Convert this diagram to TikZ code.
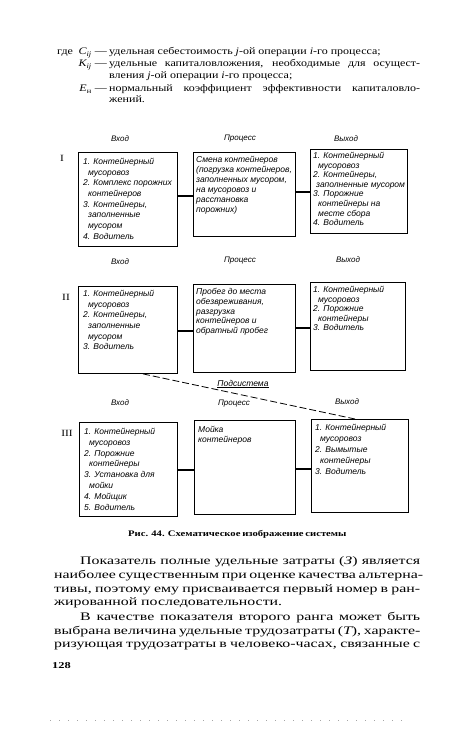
\documentclass[tikz,border=0pt]{standalone}
\usepackage{fontspec}
\setmainfont{Liberation Serif}
\newfontfamily\bodyfont{Liberation Serif}[FakeStretch=1.2]
\newfontfamily\parfont{Liberation Serif}[FakeStretch=1.38]
\newfontfamily\captfont{Liberation Serif}[FakeStretch=1.25]
\newfontfamily\handfont{Liberation Sans}
\begin{document}
\begin{tikzpicture}[x=1pt,y=-1pt]
\tikzset{
 box/.style={draw, line width=0.9pt, inner sep=0pt, anchor=north west},
 hand/.style={anchor=north west, inner sep=0pt, align=left, font=\handfont\itshape\fontsize{8.5}{#1}\selectfont},
 hand/.default=10.5,
 lab/.style={inner sep=0pt, anchor=base, font=\handfont\itshape\fontsize{8}{9}\selectfont},
 rom/.style={inner sep=0pt, anchor=base, font=\bodyfont\fontsize{9.5}{10}\selectfont},
 conn/.style={line width=1.1pt},
 subs/.style={line width=0.8pt, dash pattern=on 7pt off 3pt},
 hd/.style={inner sep=0pt, anchor=base west, font=\bodyfont\fontsize{10}{12}\selectfont},
 hdsym/.style={inner sep=0pt, anchor=base east, font=\bodyfont\fontsize{10}{12}\selectfont},
 ptxt/.style={inner sep=0pt, anchor=base west, font=\parfont\fontsize{11.5}{14}\selectfont},
 capt/.style={inner sep=0pt, anchor=base west, font=\captfont\bfseries\fontsize{8.5}{10}\selectfont},
}
\useasboundingbox[fill=white] (0,0) rectangle (450,746);

% ---- header ----
\node[hd] (h1g) at (57,55) {где};
\node[hdsym] (h1s) at (107,55) {{\itshape C}\textsubscript{\itshape ij} —};
\node[hd] (h1t) at (109,55) {удельная себестоимость {\itshape j}-ой операции {\itshape i}-го процесса;};
\node[hdsym] (h2s) at (107,67) {{\itshape K}\textsubscript{\itshape ij} —};
\node[hd] (h2t) at (109,67) {\makebox[311pt][s]{удельные капиталовложения, необходимые для осущест-}};
\node[hd] (h3t) at (109,79) {вления {\itshape j}-ой операции {\itshape i}-го процесса;};
\node[hdsym] (h4s) at (107,92) {{\itshape Е}\textsubscript{н} —};
\node[hd] (h4t) at (109,92) {\makebox[311pt][s]{нормальный коэффициент эффективности капиталовло-}};
\node[hd] (h5t) at (109,103) {жений.};

% ---- row I ----
\node[lab] (vI) at (120,142) {Вход};
\node[lab] (pI) at (240,141) {Процесс};
\node[lab] (oI) at (346,142) {Выход};
\node[rom] (rI) at (62,161) {I};

\node[box, minimum width=99pt, minimum height=94pt] (I1) at (78,152) {};
\node[box, minimum width=102pt, minimum height=84pt] (I2) at (193,152) {};
\node[box, minimum width=97pt, minimum height=84pt] (I3) at (310,149) {};

\node[hand=10.7] (tI1) at (83,158) {1. Контейнерный\\\hspace*{5pt}мусоровоз\\2. Комплекс порожних\\\hspace*{5pt}контейнеров\\3. Контейнеры,\\\hspace*{5pt}заполненные\\\hspace*{5pt}мусором\\4. Водитель};
\node[hand=10] (tI2) at (196,156) {Смена контейнеров\\(погрузка контейнеров,\\заполненных мусором,\\на мусоровоз и\\расстановка\\порожних)};
\node[hand=9.6] (tI3) at (313,152) {1. Контейнерный\\\hspace*{5pt}мусоровоз\\2. Контейнеры,\\\hspace*{3pt}заполненные мусором\\3. Порожние\\\hspace*{5pt}контейнеры на\\\hspace*{5pt}месте сбора\\4. Водитель};

\coordinate (cI1) at (0,196);
\coordinate (cI2) at (0,192);
\draw[conn] (I1.east |- cI1) -- (I2.west |- cI1);
\draw[conn] (I2.east |- cI2) -- (I3.west |- cI2);

% ---- row II ----
\node[lab] (vII) at (120,264) {Вход};
\node[lab] (pII) at (240,262) {Процесс};
\node[lab] (oII) at (348,262) {Выход};
\node[rom] (rII) at (66,300) {II};

\node[box, minimum width=99pt, minimum height=87pt] (II1) at (78,286) {};
\node[box, minimum width=102pt, minimum height=88pt] (II2) at (193,284) {};
\node[box, minimum width=95pt, minimum height=88pt] (II3) at (310,282) {};

\node[hand=10.7] (tII1) at (83,290) {1. Контейнерный\\\hspace*{5pt}мусоровоз\\2. Контейнеры,\\\hspace*{5pt}заполненные\\\hspace*{5pt}мусором\\3. Водитель};
\node[hand=9.8] (tII2) at (196,288) {Пробег до места\\обезвреживания,\\разгрузка\\контейнеров и\\обратный пробег};
\node[hand=9.6] (tII3) at (313,286) {1. Контейнерный\\\hspace*{5pt}мусоровоз\\2. Порожние\\\hspace*{5pt}контейнеры\\3. Водитель};

\coordinate (cII1) at (0,331);
\coordinate (cII2) at (0,328);
\draw[conn] (II1.east |- cII1) -- (II2.west |- cII1);
\draw[conn] (II2.east |- cII2) -- (II3.west |- cII2);

% ---- row III ----
\node[lab] (vIII) at (120,405) {Вход};
\node[lab] (pIII) at (234,405) {Процесс};
\node[lab] (oIII) at (347,404) {Выход};
\node[rom] (rIII) at (67,436) {III};

\node[box, minimum width=98pt, minimum height=94pt] (III1) at (79,422) {};
\node[box, minimum width=101pt, minimum height=94pt] (III2) at (194,420) {};
\node[box, minimum width=97pt, minimum height=93pt] (III3) at (311,419) {};

\node[hand=10.8] (tIII1) at (84,428) {1. Контейнерный\\\hspace*{5pt}мусоровоз\\2. Порожние\\\hspace*{5pt}контейнеры\\3. Установка для\\\hspace*{5pt}мойки\\4. Мойщик\\5. Водитель};
\node[hand=10.5] (tIII2) at (198,426) {Мойка\\контейнеров};
\node[hand=11] (tIII3) at (315,424) {1. Контейнерный\\\hspace*{5pt}мусоровоз\\2. Вымытые\\\hspace*{5pt}контейнеры\\3. Водитель};

\coordinate (cIII1) at (0,470);
\coordinate (cIII2) at (0,469);
\draw[conn] (III1.east |- cIII1) -- (III2.west |- cIII1);
\draw[conn] (III2.east |- cIII2) -- (III3.west |- cIII2);

% ---- subsystem ----
\node[lab, font=\handfont\itshape\fontsize{8.5}{9}\selectfont] (sub) at (243,386) {\underline{Подсистема}};
\coordinate (d1) at (143,0);
\coordinate (d2) at (355,0);
\draw[subs] (II1.south -| d1) -- (III3.north -| d2);

% ---- caption ----
\node[capt] (cap) at (128,536) {\makebox[209pt][s]{Рис. 44. Схематическое изображение системы}};

% ---- paragraph ----
\node[ptxt] (p1) at (80,564) {\makebox[340pt][s]{Показатель полные удельные затраты ({\itshape З}) является}};
\node[ptxt] (p2) at (54,578) {\makebox[366pt][s]{наиболее существенным при оценке качества альтерна-}};
\node[ptxt] (p3) at (54,592) {\makebox[366pt][s]{тивы, поэтому ему присваивается первый номер в ран-}};
\node[ptxt] (p4) at (54,605) {жированной последовательности.};
\node[ptxt] (p5) at (80,620) {\makebox[340pt][s]{В качестве показателя второго ранга может быть}};
\node[ptxt] (p6) at (54,634) {\makebox[366pt][s]{выбрана величина удельные трудозатраты ({\itshape Т}), характе-}};
\node[ptxt] (p7) at (54,647) {\makebox[366pt][s]{ризующая трудозатраты в человеко-часах, связанные с}};
\node[ptxt, font=\parfont\bfseries\fontsize{9}{10}\selectfont] (pg) at (52,668) {128};

\draw[gray!70, line width=0.6pt, dash pattern=on 1pt off 8pt] (50,720) -- (405,720);
\end{tikzpicture}
\end{document}
